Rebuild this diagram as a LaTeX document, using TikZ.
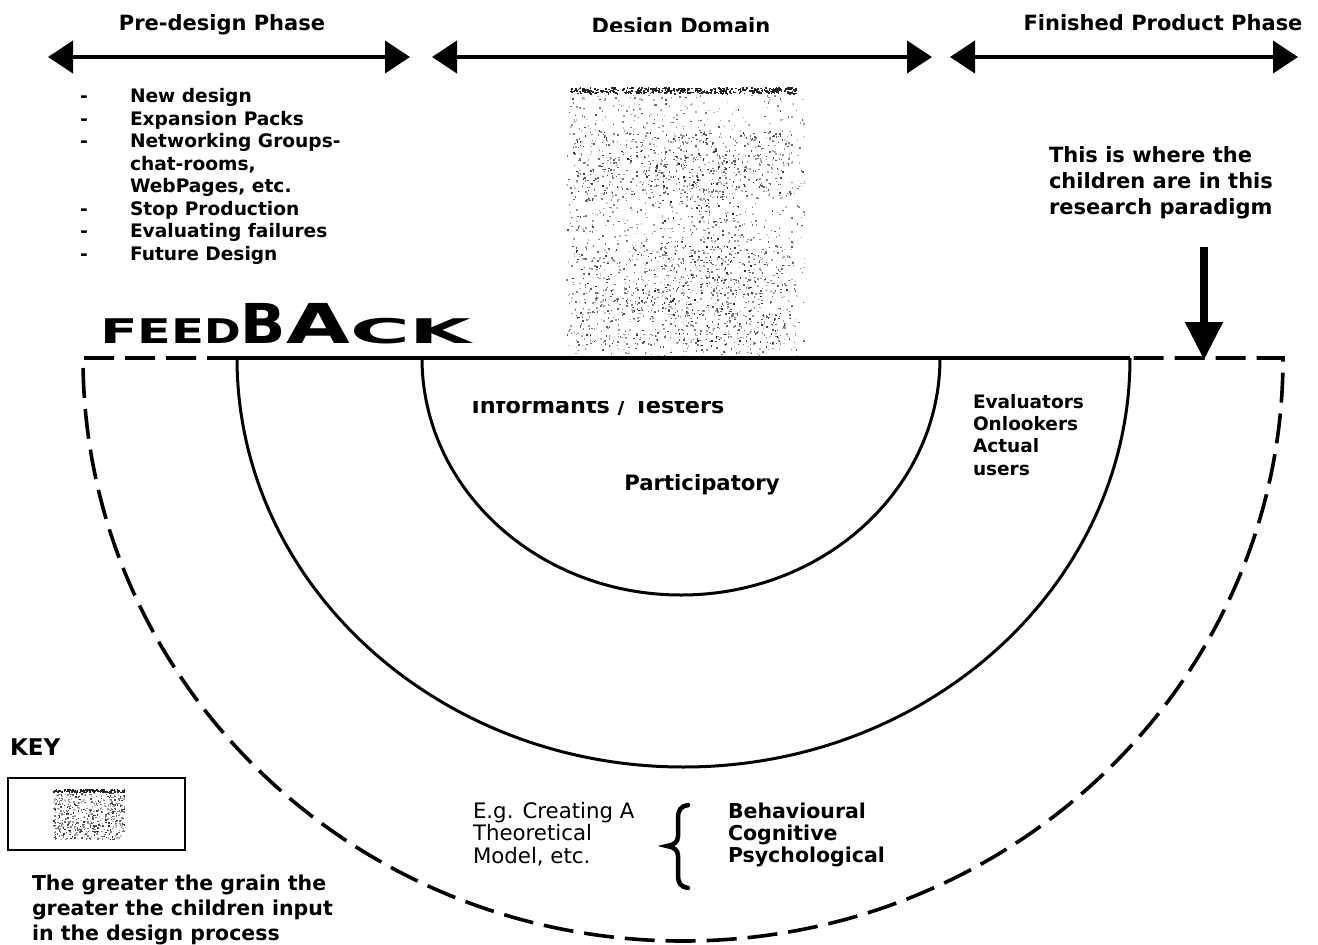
\documentclass[tikz,border=0pt]{standalone}
\usepackage{fontspec}
\usepackage{graphicx}
\setmainfont{DejaVu Sans}
\usetikzlibrary{arrows.meta}
% top-aligned multi-line block: baseline = first line
\newcommand\stack[1]{\begin{tabular}[t]{@{}l@{}}#1\end{tabular}}
% stretched letter for the FEEDBACK banner
\newcommand\wideletter[3]{\scalebox{#1}[1]{\fontsize{#2}{#2}\selectfont #3}}

\begin{document}
\begin{tikzpicture}[x=1pt,y=-1pt,
  every node/.style={inner sep=0pt,outer sep=0pt,text=black},
  hdr/.style={font=\fontsize{21}{25}\selectfont\bfseries,anchor=base},
  phase/.style={line width=4pt,{Triangle[length=25pt,width=32pt]}-{Triangle[length=25pt,width=32pt]}},
  listtxt/.style={font=\fontsize{18.6}{22.5}\selectfont\bfseries,anchor=base west},
  note/.style={font=\fontsize{21}{26}\selectfont\bfseries,anchor=base west},
  midtxt/.style={font=\fontsize{18.5}{22.4}\selectfont\bfseries,anchor=base west},
  keytxt/.style={font=\fontsize{20.5}{25}\selectfont\bfseries,anchor=base west},
  plaintxt/.style={font=\fontsize{21.3}{22}\selectfont,anchor=base west},
  boldtxt/.style={font=\fontsize{20.5}{22}\selectfont\bfseries,anchor=base west},
  ring/.style={line width=3pt},
  outerring/.style={line width=3.6pt,dash pattern=on 30pt off 11pt},
]
\useasboundingbox (0,0) rectangle (1318,945);

% ---------- phase headings and arrows ----------
\node[hdr] (pre) at (222,30) {Pre-design Phase};
\begin{scope}
  \clip (500,0) rectangle (860,31.5);
  \node[hdr] (dom) at (681,33) {Design Domain};
\end{scope}
\node[hdr] (fin) at (1163,30) {Finished Product Phase};

\coordinate (a1l) at (48,57);  \coordinate (a1r) at (410,57);
\coordinate (a2l) at (432,57); \coordinate (a2r) at (932,57);
\coordinate (a3l) at (950,57); \coordinate (a3r) at (1298,57);
\draw[phase] (a1l) -- (a1r);
\draw[phase] (a2l) -- (a2r);
\draw[phase] (a3l) -- (a3r);

% ---------- pre-design list ----------
\node[listtxt] (dashes) at (80,102.5) {\stack{-\\-\\-\\\mbox{}\\\mbox{}\\-\\-\\-}};
\node[listtxt] (items) at (130,102.5) {\stack{New design\\Expansion Packs\\Networking Groups-\\chat-rooms,\\WebPages, etc.\\Stop Production\\Evaluating failures\\Future Design}};

% ---------- grain block (design domain) ----------
\pgfmathsetseed{4711}
\foreach \k in {1,...,1300}{
  \pgfmathsetmacro\gs{int(20+50*rnd)}
  \fill[black!\gs] ({566+238*rnd},{94+262*rnd}) rectangle ++(1.5,1.5);
}
\foreach \k in {1,...,450}{
  \pgfmathsetmacro\gs{int(30+55*rnd)}
  \fill[black!\gs] ({572+220*rnd},{130+70*rnd}) rectangle ++(1.5,1.5);
}
\foreach \k in {1,...,550}{
  \pgfmathsetmacro\gs{int(30+55*rnd)}
  \fill[black!\gs] ({572+220*rnd},{245+100*rnd}) rectangle ++(1.5,1.5);
}
\foreach \k in {1,...,260}{
  \pgfmathsetmacro\gs{int(30+60*rnd)}
  \fill[black!\gs] ({660+80*rnd},{150+200*rnd}) rectangle ++(1.5,1.5);
}
\foreach \k in {1,...,420}{
  \fill[black!85] ({570+226*rnd},{87+6*rnd}) rectangle ++(1.6,1.6);
}

% ---------- FEEDBACK banner ----------
\node[anchor=base west,font=\bfseries] (fb) at (100,343) {%
  \wideletter{1.62}{34}{F}\wideletter{1.45}{34}{E}\wideletter{1.42}{34}{E}\wideletter{1.3}{34}{D}%
  \wideletter{1.08}{55}{B}\wideletter{1.5}{55}{A}%
  \wideletter{2.4}{34}{C}\wideletter{2.35}{34}{K}};

% ---------- the three nested half rings ----------
\coordinate (oL) at (83,358);   \coordinate (oR) at (1283,358);
\coordinate (mL) at (237,358);  \coordinate (mR) at (1130,358);
\coordinate (iL) at (422,358);  \coordinate (iR) at (940,358);

\draw[outerring] (mL) -- (oL) arc[start angle=180,end angle=0,x radius=600,y radius=583] -- (mR);
\draw[ring] (mL) arc[start angle=180,end angle=0,x radius=446.5,y radius=409];
\draw[ring] (iL) arc[start angle=180,end angle=0,x radius=259,y radius=237];
\draw[line width=4pt] (mL) -- (mR);

% ---------- ring labels ----------
\begin{scope}
  \clip (440,401) rectangle (760,430);
  \node[font=\fontsize{22.3}{24}\selectfont\bfseries,anchor=base] (inf) at (598,413) {Informants / Testers};
\end{scope}
\node[font=\fontsize{21.2}{24}\selectfont\bfseries,anchor=base] (part) at (702,490) {Participatory};
\node[midtxt] (eval) at (973,408) {\stack{Evaluators\\Onlookers\\Actual\\users}};

% ---------- children position ----------
\node[note] (where) at (1049,162) {\stack{This is where the\\children are in this\\research paradigm}};
\coordinate (pt) at (1204,247);
\coordinate (ptip) at (1204,360);
\draw[line width=8pt,-{Triangle[length=38pt,width=36pt]}] (pt) -- (ptip);

% ---------- bottom notes ----------
\node[plaintxt] (eg) at (473,818) {\stack{E.g. Creating A\\Theoretical\\Model, etc.}};
\draw[line width=4.5pt,line cap=round]
  (688,805) .. controls (681,806) and (678,810) .. (678,818) -- (678,836)
  .. controls (678,842) and (674,845) .. (667,846)
  .. controls (674,847) and (678,850) .. (678,856) -- (678,876)
  .. controls (678,883) and (681,887) .. (688,888);
\node[boldtxt] (beh) at (728,818) {\stack{Behavioural\\Cognitive\\Psychological}};

% ---------- key ----------
\node[font=\fontsize{23}{25}\selectfont\bfseries,anchor=base west] (key) at (10,755) {KEY};
\node[draw,line width=2.5pt,minimum width=177pt,minimum height=72pt,anchor=north west] (keybox) at (8,778) {};
\foreach \k in {1,...,500}{
  \pgfmathsetmacro\gs{int(25+60*rnd)}
  \fill[black!\gs] ({53+71*rnd},{792+47*rnd}) rectangle ++(1.4,1.4);
}
\foreach \k in {1,...,140}{
  \fill[black!85] ({53+71*rnd},{789+3*rnd}) rectangle ++(1.4,1.4);
}
\node[keytxt] (keynote) at (32,890) {\stack{The greater the grain the\\greater the children input\\in the design process}};

\end{tikzpicture}
\end{document}
